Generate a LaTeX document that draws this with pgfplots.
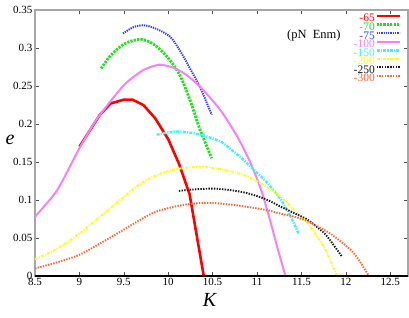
\documentclass[border=0pt]{standalone}
\usepackage{pgfplots}
\pgfplotsset{compat=1.18}
\usepackage{fontspec}
\setmainfont{Liberation Serif}
\definecolor{cR}{rgb}{1,0,0}
\definecolor{cG}{rgb}{0.1,0.9,0.1}
\definecolor{cB}{rgb}{0.2,0.25,1}
\definecolor{cM}{rgb}{0.97,0.5,0.97}
\definecolor{cC}{rgb}{0.25,0.95,1}
\definecolor{cY}{rgb}{1,1,0.1}
\definecolor{cK}{rgb}{0.1,0.1,0.1}
\definecolor{cO}{rgb}{1,0.4,0.2}
\begin{document}
\begin{tikzpicture}
\begin{axis}[
  scale only axis, width=373pt, height=266pt,
  xmin=8.5, xmax=12.7, ymin=0, ymax=0.35,
  xtick={8.5,9,...,12.5},
  ytick={0,0.05,...,0.35},
  yticklabels={0,0.05,0.1,0.15,0.2,0.25,0.3,0.35},
  xticklabels={8.5,9,9.5,10,10.5,11,11.5,12,12.5},
  tick align=inside, major tick length=4pt,
  tick style={gray!60!black, line width=0.6pt},
  axis line style={gray!70, line width=1.2pt},
  ticklabel style={font=\fontsize{11}{12}\selectfont},
  /pgf/number format/assume math mode=true,
  xticklabel style={yshift=1pt},
  yticklabel style={xshift=1pt},
  xlabel={\fontsize{20}{22}\selectfont\textit{K}},
  ylabel={\fontsize{20}{22}\selectfont\textit{e}},
  xlabel style={at={(axis description cs:0.469,-0.09)}, anchor=center},
  ylabel style={at={(axis description cs:-0.067,0.511)}, anchor=center, rotate=-90},
  legend style={at={(0.99,0.99)}, anchor=north east, draw=none, fill=none,
    font=\fontsize{11.5}{8}\selectfont, row sep=1pt, nodes={inner sep=0.5pt, text height=6.5pt, text depth=0pt}},
  legend cell align=right, legend plot pos=right,
  legend image code/.code={\draw[#1] (0pt,2.5pt) -- (23pt,2.5pt);},
]
\addplot[cR, line width=2.6pt] coordinates {
(9.0,0.170)(9.23,0.212)(9.35,0.227)(9.5,0.232)(9.6,0.232)(9.72,0.225)(9.85,0.208)(10.0,0.180)(10.12,0.148)(10.24,0.108)(10.40,0)};
\addlegendentry{\textcolor{cR}{-65}}
\addplot[cG, line width=2.8pt, dash pattern=on 2.2pt off 1.2pt, smooth, tension=0.5] coordinates {
(9.245,0.273)(9.35,0.290)(9.5,0.305)(9.65,0.311)(9.75,0.310)(9.87,0.302)(10.02,0.284)(10.14,0.262)(10.25,0.230)(10.36,0.192)(10.49,0.155)};
\addlegendentry{\textcolor{cG}{-70}}
\addplot[cB, line width=2pt, dash pattern=on 1.3pt off 1pt, smooth, tension=0.5] coordinates {
(9.49,0.319)(9.6,0.327)(9.72,0.330)(9.85,0.326)(10.02,0.315)(10.14,0.295)(10.25,0.272)(10.36,0.248)(10.49,0.212)};
\addlegendentry{\textcolor{cB}{-75}}
\addplot[cM, line width=2pt, smooth, tension=0.4] coordinates {
(8.5,0.078)(8.75,0.113)(9.0,0.168)(9.2,0.207)(9.5,0.251)(9.72,0.271)(9.9,0.278)(10.06,0.274)(10.2,0.265)(10.36,0.249)(10.59,0.218)(10.78,0.183)(10.93,0.148)(11.05,0.112)(11.15,0.072)(11.23,0.037)(11.32,0)};
\addlegendentry{\textcolor{cM}{-100}}
\addplot[cC, line width=2.4pt, dash pattern=on 3pt off 1.2pt on 1.2pt off 1.2pt, smooth, tension=0.5] coordinates {
(9.87,0.186)(10.0,0.189)(10.14,0.190)(10.36,0.186)(10.59,0.177)(10.70,0.167)(10.81,0.157)(10.89,0.148)(10.98,0.138)(11.12,0.122)(11.27,0.100)(11.38,0.078)(11.47,0.055)};
\addlegendentry{\textcolor{cC}{-150}}
\addplot[cY, line width=2pt, dash pattern=on 3pt off 1.2pt on 1.2pt off 1.2pt, smooth, tension=0.5] coordinates {
(8.5,0.022)(8.75,0.036)(9.0,0.056)(9.23,0.078)(9.5,0.104)(9.72,0.124)(10.02,0.139)(10.36,0.144)(10.51,0.142)(10.7,0.138)(10.89,0.131)(11.1,0.118)(11.27,0.104)(11.45,0.083)(11.57,0.069)(11.75,0.039)(11.90,0)};
\addlegendentry{\textcolor{cY}{-200}}
\addplot[cK, line width=1.9pt, dash pattern=on 1.4pt off 1.3pt, smooth, tension=0.5] coordinates {
(10.12,0.112)(10.3,0.114)(10.51,0.115)(10.7,0.113)(10.89,0.109)(11.1,0.101)(11.27,0.091)(11.45,0.081)(11.57,0.074)(11.7,0.062)(11.79,0.052)(11.96,0.025)};
\addlegendentry{\textcolor{cK}{-250}}
\addplot[cO, line width=1.9pt, dash pattern=on 1.4pt off 1.3pt, smooth, tension=0.5] coordinates {
(8.5,0.010)(8.75,0.018)(9.0,0.028)(9.25,0.044)(9.5,0.061)(9.7,0.075)(9.87,0.085)(10.14,0.093)(10.36,0.096)(10.51,0.096)(10.7,0.094)(10.89,0.091)(11.1,0.087)(11.27,0.082)(11.45,0.077)(11.57,0.072)(11.72,0.063)(11.87,0.052)(12.09,0.030)(12.26,0)};
\addlegendentry{\textcolor{cO}{-300}}
\node[font=\fontsize{12.5}{13}\selectfont, anchor=center] at (axis cs:11.64,0.316) {(pN~~Enm)};
\draw[black, line width=1.2pt] (rel axis cs:0,0) -- (rel axis cs:1,0);
\end{axis}
\pgfresetboundingbox
\path (-35pt,-41pt) rectangle (374pt,276pt);
\end{tikzpicture}
\end{document}
